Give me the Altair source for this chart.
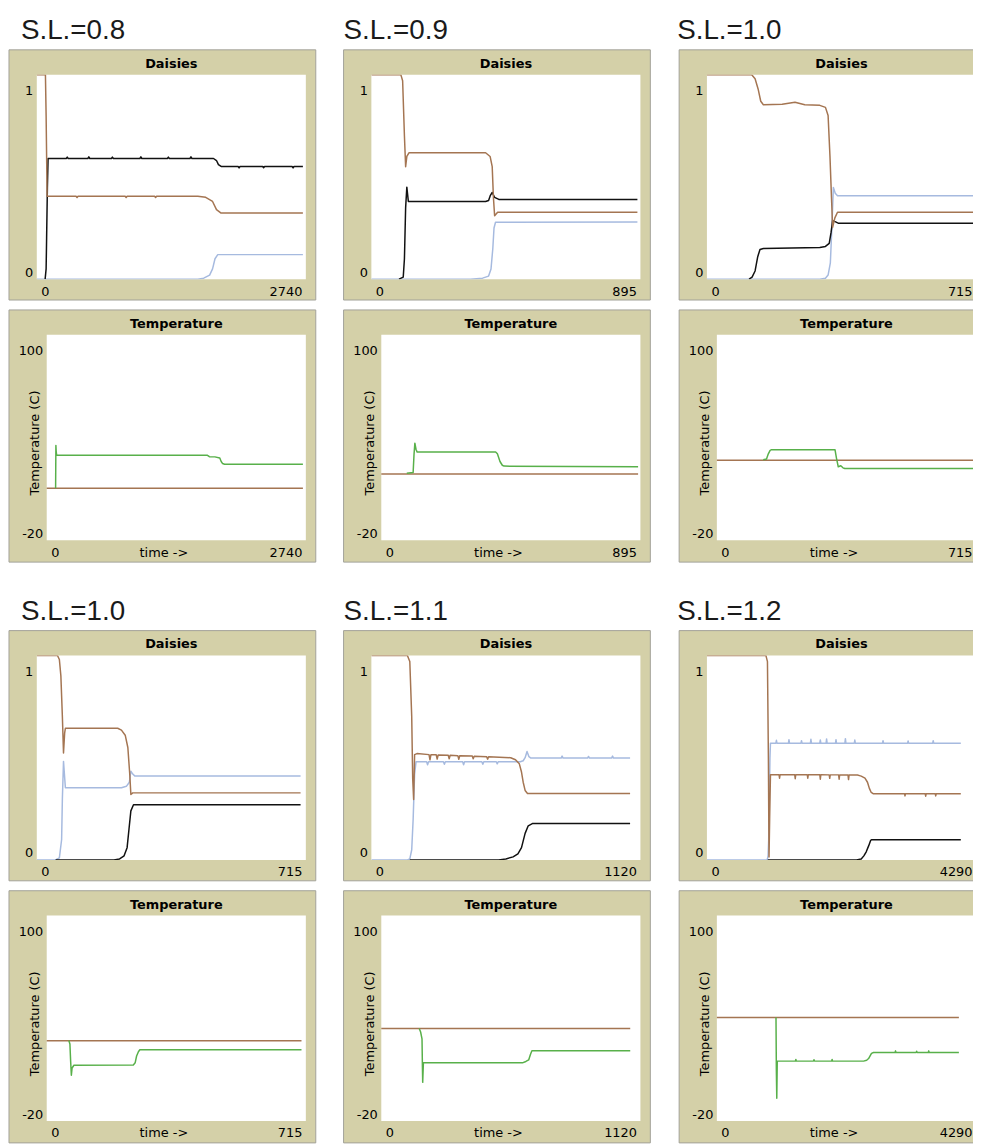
import altair as alt
import pandas as pd

# ---------------- data ----------------
titles = ["S.L.=0.8", "S.L.=0.9", "S.L.=1.0", "S.L.=1.0", "S.L.=1.1", "S.L.=1.2"]
x_max = [2740, 895, 715, 715, 1120, 4290]
title_dx = [12, 0, -2, 12, 0, -2]

# Daisies plots: blue / black / brown series (fraction)
d1_blue_t = [0, 1640, 1700, 1760, 1790, 1815, 1843, 2710]
d1_blue_v = [0, 0, 0.005, 0.02, 0.05, 0.10, 0.12, 0.12]
d1_black_t = [85, 95, 100, 108, 115, 300, 310, 320, 520, 530, 540, 760, 770, 780, 1050, 1060, 1070,
              1330, 1340, 1350, 1560, 1570, 1580, 1800, 1830, 1850, 1877, 2050, 2060, 2070,
              2300, 2310, 2320, 2600, 2610, 2620, 2710]
d1_black_v = [0, 0.05, 0.2, 0.45, 0.59, 0.59, 0.597, 0.59, 0.59, 0.598, 0.59, 0.59, 0.597, 0.59,
              0.59, 0.598, 0.59, 0.59, 0.597, 0.59, 0.59, 0.598, 0.59, 0.59, 0.58, 0.56, 0.551,
              0.551, 0.544, 0.551, 0.551, 0.545, 0.551, 0.551, 0.544, 0.551, 0.551]
d1_brown_t = [0, 88, 95, 105, 400, 410, 420, 900, 910, 920, 1200, 1210, 1220, 1640, 1720, 1790,
              1830, 1877, 2710]
d1_brown_v = [1.0, 1.0, 0.8, 0.405, 0.405, 0.399, 0.405, 0.405, 0.399, 0.405, 0.405, 0.399, 0.405,
              0.405, 0.40, 0.38, 0.34, 0.323, 0.323]

d2_blue_t = [0, 330, 370, 390, 398, 404, 408, 413, 885]
d2_blue_v = [0, 0, 0.005, 0.015, 0.05, 0.15, 0.25, 0.278, 0.28]
d2_black_t = [92, 106, 110, 114, 118, 123, 380, 390, 396, 402, 410, 424, 885]
d2_black_v = [0, 0.01, 0.1, 0.35, 0.45, 0.38, 0.38, 0.385, 0.41, 0.424, 0.40, 0.39, 0.39]
d2_brown_t = [0, 98, 104, 110, 114, 118, 125, 380, 395, 402, 406, 410, 420, 885]
d2_brown_v = [1.0, 1.0, 0.97, 0.7, 0.55, 0.60, 0.618, 0.618, 0.60, 0.55, 0.4, 0.31, 0.327, 0.327]

d3_blue_t = [0, 300, 315, 322, 328, 332, 336, 341, 347, 712]
d3_blue_v = [0, 0, 0.005, 0.02, 0.08, 0.25, 0.448, 0.42, 0.408, 0.408]
d3_black_t = [112, 120, 128, 135, 141, 150, 300, 315, 325, 330, 334, 342, 350, 712]
d3_black_v = [0, 0.01, 0.04, 0.11, 0.145, 0.15, 0.155, 0.16, 0.175, 0.23, 0.286, 0.28, 0.273, 0.273]
d3_brown_t = [0, 119, 128, 136, 143, 150, 200, 234, 260, 300, 315, 322, 327, 331, 334, 340, 347, 712]
d3_brown_v = [1.0, 1.0, 0.98, 0.93, 0.87, 0.853, 0.855, 0.865, 0.853, 0.85, 0.84, 0.80, 0.6, 0.4, 0.254, 0.30, 0.327, 0.327]

d4_blue_t = [0, 50, 60, 66, 68, 71, 76, 225, 238, 246, 250, 255, 261, 701]
d4_blue_v = [0, 0, 0.01, 0.1, 0.3, 0.482, 0.353, 0.353, 0.36, 0.38, 0.434, 0.42, 0.41, 0.41]
d4_black_t = [50, 205, 220, 232, 240, 245, 250, 257, 701]
d4_black_v = [0, 0, 0.005, 0.02, 0.06, 0.15, 0.24, 0.27, 0.27]
d4_brown_t = [0, 55, 60, 64, 68, 71, 74, 76, 215, 225, 235, 242, 247, 250, 255, 701]
d4_brown_v = [1.0, 1.0, 0.98, 0.9, 0.7, 0.523, 0.62, 0.644, 0.644, 0.635, 0.61, 0.55, 0.42, 0.32, 0.328, 0.328]

d5_blue_t = [0, 150, 160, 168, 174, 180, 186, 230, 234, 238, 300, 304, 308, 380, 384, 388,
             460, 464, 468, 520, 524, 528, 620, 632, 640, 648, 656, 664, 790, 794, 798,
             900, 904, 908, 1000, 1004, 1008, 1077]
d5_blue_v = [0, 0, 0.005, 0.05, 0.2, 0.42, 0.48, 0.48, 0.465, 0.48, 0.48, 0.468, 0.48, 0.48, 0.466,
             0.48, 0.48, 0.468, 0.48, 0.48, 0.47, 0.48, 0.48, 0.485, 0.50, 0.53, 0.505, 0.498,
             0.498, 0.508, 0.498, 0.498, 0.506, 0.498, 0.498, 0.508, 0.498, 0.498]
d5_black_t = [160, 530, 560, 590, 610, 625, 640, 653, 670, 1077]
d5_black_v = [0, 0, 0.005, 0.015, 0.03, 0.06, 0.13, 0.167, 0.178, 0.178]
d5_brown_t = [0, 150, 160, 168, 172, 176, 180, 190, 240, 244, 248, 270, 274, 278, 320, 324, 328,
              360, 364, 368, 420, 424, 428, 480, 484, 488, 580, 600, 616, 625, 632, 640, 650, 1077]
d5_brown_v = [1.0, 1.0, 0.97, 0.7, 0.4, 0.296, 0.515, 0.52, 0.515, 0.49, 0.515, 0.514, 0.493, 0.513,
              0.512, 0.495, 0.512, 0.51, 0.492, 0.51, 0.508, 0.495, 0.507, 0.505, 0.493, 0.505,
              0.50, 0.49, 0.47, 0.43, 0.38, 0.34, 0.325, 0.325]

d6_blue_t = [0, 960, 975, 985, 995, 1005, 1013, 1100, 1108, 1116, 1300, 1308, 1316, 1500, 1508,
             1516, 1650, 1658, 1666, 1800, 1808, 1816, 1900, 1908, 1916, 2050, 2058, 2066,
             2200, 2208, 2216, 2350, 2358, 2366, 2800, 2808, 2816, 3200, 3208, 3216, 3600, 3608,
             3616, 4048]
d6_blue_v = [0, 0, 0.02, 0.1, 0.3, 0.5, 0.571, 0.571, 0.585, 0.571, 0.571, 0.588, 0.571, 0.571,
             0.583, 0.571, 0.571, 0.59, 0.571, 0.571, 0.587, 0.571, 0.571, 0.592, 0.571, 0.571,
             0.588, 0.571, 0.571, 0.593, 0.571, 0.571, 0.586, 0.571, 0.571, 0.583, 0.571, 0.571,
             0.582, 0.571, 0.571, 0.583, 0.571, 0.571]
d6_black_t = [970, 2385, 2460, 2502, 2540, 2580, 2610, 2623, 4048]
d6_black_v = [0, 0, 0.005, 0.02, 0.04, 0.07, 0.095, 0.099, 0.099]
d6_brown_t = [0, 940, 965, 980, 990, 1000, 1013, 1150, 1158, 1166, 1400, 1408, 1416, 1600, 1608,
              1616, 1800, 1808, 1816, 1950, 1958, 1966, 2100, 2108, 2116, 2250, 2258, 2266,
              2400, 2460, 2520, 2560, 2590, 2620, 2650, 3150, 3158, 3166, 3480, 3488, 3496,
              3640, 3648, 3656, 4048]
d6_brown_v = [1.0, 1.0, 0.97, 0.5, 0.015, 0.2, 0.417, 0.417, 0.40, 0.417, 0.417, 0.397, 0.417,
              0.417, 0.40, 0.417, 0.417, 0.395, 0.417, 0.416, 0.399, 0.416, 0.416, 0.395, 0.416,
              0.415, 0.393, 0.415, 0.415, 0.41, 0.40, 0.38, 0.35, 0.33, 0.324, 0.324, 0.313,
              0.324, 0.324, 0.312, 0.324, 0.324, 0.313, 0.324, 0.324]

# Temperature plots: brown / green series (deg C)
t1_brown_t = [0, 2709]
t1_brown_v = [10.4, 10.4]
t1_green_t = [94, 97, 100, 105, 119, 1700, 1720, 1778, 1830, 1845, 1860, 1880, 2709]
t1_green_v = [10.4, 35.4, 32, 29.6, 29.6, 29.6, 28.8, 28.7, 28.0, 26, 24.8, 24.4, 24.4]

t2_brown_t = [0, 887]
t2_brown_v = [18.65, 18.65]
t2_green_t = [88, 110, 113, 116, 120, 124, 395, 401, 410, 418, 424, 887]
t2_green_v = [19.2, 19.6, 30, 36.7, 33, 31.5, 31.5, 30.5, 26, 23.8, 23.3, 22.9]

t3_brown_t = [0, 711]
t3_brown_v = [26.7, 26.7]
t3_green_t = [128, 137, 142, 147, 151, 326, 330, 335, 342, 348, 353, 711]
t3_green_v = [27.0, 27.5, 30.5, 32.5, 32.9, 32.9, 28, 22.9, 23.5, 22.3, 21.9, 21.9]

t4_brown_t = [0, 703]
t4_brown_v = [26.96, 26.96]
t4_green_t = [61, 64, 66, 68, 70, 75, 239, 244, 248, 253, 257, 703]
t4_green_v = [27.0, 25, 15, 6.8, 11, 12.6, 12.75, 14, 18.0, 20.5, 21.6, 21.6]

t5_brown_t = [0, 1076]
t5_brown_v = [34.1, 34.1]
t5_green_t = [164, 170, 176, 178, 179, 182, 186, 610, 625, 637, 645, 651, 1076]
t5_green_v = [34.1, 32, 28, 10, 2.6, 14.0, 14.0, 14.0, 14.8, 15.7, 19, 21.0, 21.0]

t6_brown_t = [0, 4007]
t6_brown_v = [40.5, 40.5]
t6_green_t = [979, 985, 992, 1000, 1300, 1308, 1316, 1600, 1608, 1616, 1900, 1908, 1916, 2430,
              2480, 2512, 2560, 2593, 2950, 2958, 2966, 3300, 3308, 3316, 3500, 3508, 3516, 4007]
t6_green_v = [40.5, 10, -6.7, 15.0, 15.0, 16.0, 15.0, 15.0, 15.8, 15.0, 15.0, 16.0, 15.0, 15.0,
              15.5, 16.5, 19.5, 20.0, 20.0, 21.0, 20.0, 20.0, 20.8, 20.0, 20.0, 21.0, 20.0, 20.0]

daisy_series = [
    {"blue": (d1_blue_t, d1_blue_v), "black": (d1_black_t, d1_black_v), "brown": (d1_brown_t, d1_brown_v)},
    {"blue": (d2_blue_t, d2_blue_v), "black": (d2_black_t, d2_black_v), "brown": (d2_brown_t, d2_brown_v)},
    {"blue": (d3_blue_t, d3_blue_v), "black": (d3_black_t, d3_black_v), "brown": (d3_brown_t, d3_brown_v)},
    {"blue": (d4_blue_t, d4_blue_v), "black": (d4_black_t, d4_black_v), "brown": (d4_brown_t, d4_brown_v)},
    {"blue": (d5_blue_t, d5_blue_v), "black": (d5_black_t, d5_black_v), "brown": (d5_brown_t, d5_brown_v)},
    {"blue": (d6_blue_t, d6_blue_v), "black": (d6_black_t, d6_black_v), "brown": (d6_brown_t, d6_brown_v)},
]
temp_series = [
    {"brown": (t1_brown_t, t1_brown_v), "green": (t1_green_t, t1_green_v)},
    {"brown": (t2_brown_t, t2_brown_v), "green": (t2_green_t, t2_green_v)},
    {"brown": (t3_brown_t, t3_brown_v), "green": (t3_green_t, t3_green_v)},
    {"brown": (t4_brown_t, t4_brown_v), "green": (t4_green_t, t4_green_v)},
    {"brown": (t5_brown_t, t5_brown_v), "green": (t5_green_t, t5_green_v)},
    {"brown": (t6_brown_t, t6_brown_v), "green": (t6_green_t, t6_green_v)},
]

# ---------------- style ----------------
FONT = "DejaVu Sans"
KHAKI = "#D4D0A8"
BORDER = "#A2A199"
COLORS = {"blue": "#A6BADF", "black": "#111111", "brown": "#A47552", "green": "#58B04A"}
ONE = pd.DataFrame({"k": [0]})

PW = 271            # panel plot width (frame interior starts 28px left of it)
DH, TH = 206, 207   # daisies / temperature plot heights


def frame(W, x0, H, le, re, te, be):
    khaki = alt.Chart(ONE).mark_rect(fill=KHAKI, stroke=BORDER, strokeWidth=1).encode(
        x=alt.value(-le), x2=alt.value(W + re), y=alt.value(-te), y2=alt.value(H + be))
    white = alt.Chart(ONE).mark_rect(fill="white").encode(
        x=alt.value(x0), x2=alt.value(W), y=alt.value(0), y2=alt.value(H))
    return [khaki, white]


def text_at(x, y, text, **kw):
    return alt.Chart(ONE).mark_text(**kw).encode(x=alt.value(x), y=alt.value(y), text=alt.value(text))


def panel(series, order, xmax, ydom, x0, H, re, be, head, ytitle=None, xtitle=None,
          big_title=None, big_dx=0):
    W = PW
    top = ydom[1]
    xkw = dict(values=[0, xmax], labelExpr="'' + datum.value", labelFlush=True, labelFlushOffset=-4,
               ticks=False, tickSize=0, domain=False, grid=False, labelPadding=12,
               labelBaseline="middle", labelFont=FONT, labelFontSize=13, labelColor="black",
               labelAngle=0, zindex=1)
    if xtitle:
        xkw.update(title=xtitle, titleX=x0 + (W - x0) / 2 - 13, titleY=12, titleBaseline="middle",
                   titleAlign="center", titleFont=FONT, titleFontSize=13,
                   titleFontWeight="normal", titleColor="black")
    else:
        xkw.update(title=None)
    ykw = dict(values=list(ydom), labelExpr="'' + datum.value", ticks=False, tickSize=0,
               domain=False, grid=False, labelPadding=4, labelFont=FONT, labelFontSize=13,
               labelColor="black", zindex=1, offset=-x0,
               labelBaseline={"condition": {"test": f"datum.value == {top}", "value": "top"},
                              "value": "bottom"},
               labelOffset={"condition": {"test": f"datum.value == {top}", "value": 10},
                            "value": 0})
    if ytitle:
        ykw.update(title=ytitle, titleX=-12, titleY=H / 2 + 5, titleAngle=-90,
                   titleBaseline="middle", titleAlign="center", titleFont=FONT,
                   titleFontSize=13, titleFontWeight="normal", titleColor="black")
    else:
        ykw.update(title=None)
    xenc = alt.X("t:Q", scale=alt.Scale(domain=[0, xmax], range=[x0, W], nice=False, zero=False),
                 axis=alt.Axis(**xkw))
    yenc = alt.Y("v:Q", scale=alt.Scale(domain=list(ydom), nice=False, zero=False), axis=alt.Axis(**ykw))
    lines = []
    for name in order:
        t, v = series[name]
        df = pd.DataFrame({"t": t, "v": v})
        lines.append(alt.Chart(df).mark_line(color=COLORS[name], strokeWidth=1.5, strokeJoin="round",
                                             clip=True).encode(x=xenc, y=yenc))
    layers = frame(W, x0, H, 28, re, 25, be) + lines
    layers.append(text_at(x0 + (W - x0) / 2, -11, head, font=FONT, fontSize=13, fontWeight="bold",
                          color="black", baseline="middle", align="center"))
    if big_title:
        layers.append(text_at(-28 + big_dx, -36, big_title, font="Liberation Sans", fontSize=28,
                              color="#1a1a1a", baseline="alphabetic", align="left"))
    return alt.layer(*layers).properties(width=W, height=H)


cols = []
for i in range(6):
    re = 3 if i % 3 == 2 else 10
    dp = panel(daisy_series[i], ["blue", "black", "brown"], x_max[i], (0, 1), 0, DH, re, 21,
               "Daisies", big_title=titles[i], big_dx=title_dx[i])
    tp = panel(temp_series[i], ["brown", "green"], x_max[i], (-20, 100), 10, TH, re, 22,
               "Temperature", ytitle="Temperature (C)", xtitle="time ->")
    cols.append(alt.vconcat(dp, tp, spacing=8))

row1 = alt.hconcat(cols[0], cols[1], cols[2], spacing=26)
row2 = alt.hconcat(cols[3], cols[4], cols[5], spacing=26)

chart = alt.vconcat(row1, row2, spacing=35).properties(
    padding={"top": 5, "left": 0, "right": -7, "bottom": 0}
).configure(background="white").configure_view(stroke=None)

chart.save("out.html", embed_options={"renderer": "svg", "actions": False})
